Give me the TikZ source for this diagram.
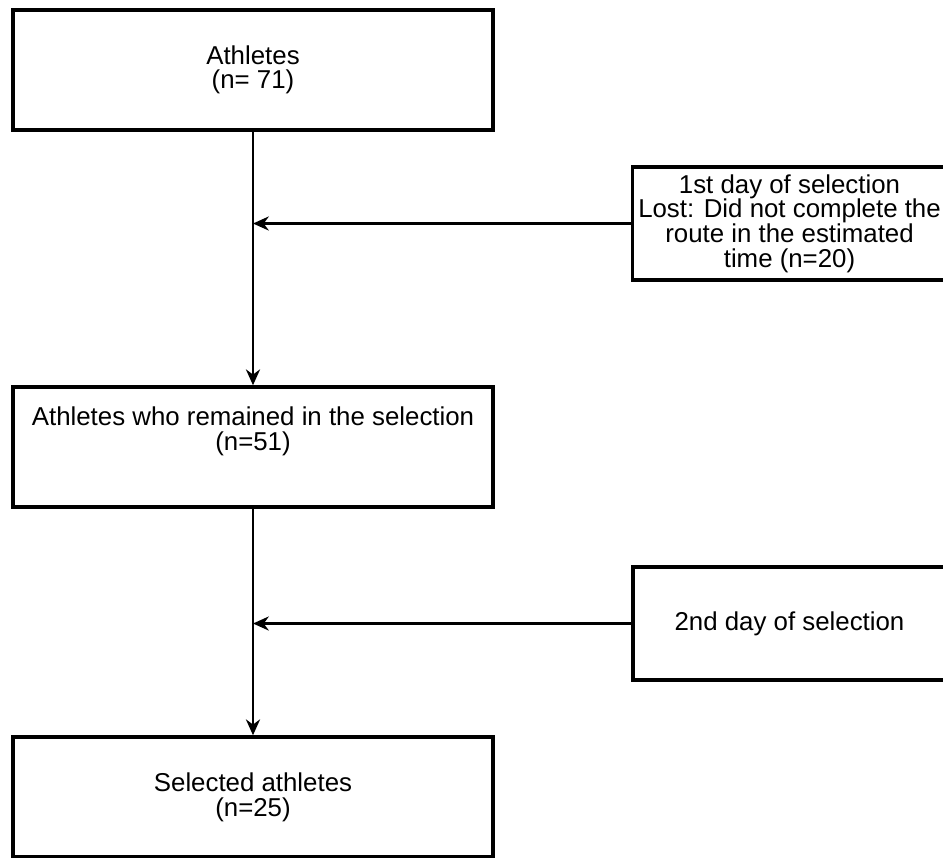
\documentclass[tikz,border=0pt]{standalone}
\usepackage{fontspec}
\setmainfont{Liberation Sans}
\usetikzlibrary{arrows.meta}

\begin{document}
\begin{tikzpicture}[
    box/.style={draw, line width=2pt, minimum width=9.6cm, minimum height=2.4cm,
      align=center, font=\fontsize{14.7}{14}\selectfont},
    sidebox/.style={draw, line width=2pt, minimum width=6.26cm, minimum height=2.26cm,
      align=center, font=\fontsize{14.7}{14}\selectfont},
    flow/.style={line width=1.6pt, -{Stealth[length=9pt, width=8pt]}}
  ]
            \clip (0, 0) rectangle (18.86, -17.14);
            \node[box] (athletes) at (5.06, -1.40) {Athletes\\(n= 71)};
            \node[box] (remained) at (5.06, -8.94) {Athletes who remained in the selection\\(n=51)\\[0.25cm]};
            \node[box] (selected) at (5.06, -15.94) {Selected athletes\\(n=25)};
            \node[sidebox] (day1) at (15.79, -4.47) {1st day of selection\\Lost: Did not complete the\\route in the estimated\\time (n=20)};
            \node[sidebox] (day2) at (15.79, -12.47) {2nd day of selection};
            \draw[flow] (athletes) -- (remained);
            \draw[flow] (remained) -- (selected);
            \draw[flow] (day1.west) -- (day1.west -| athletes.south);
            \draw[flow] (day2.west) -- (day2.west -| remained.south);
        \end{tikzpicture}
\end{document}
